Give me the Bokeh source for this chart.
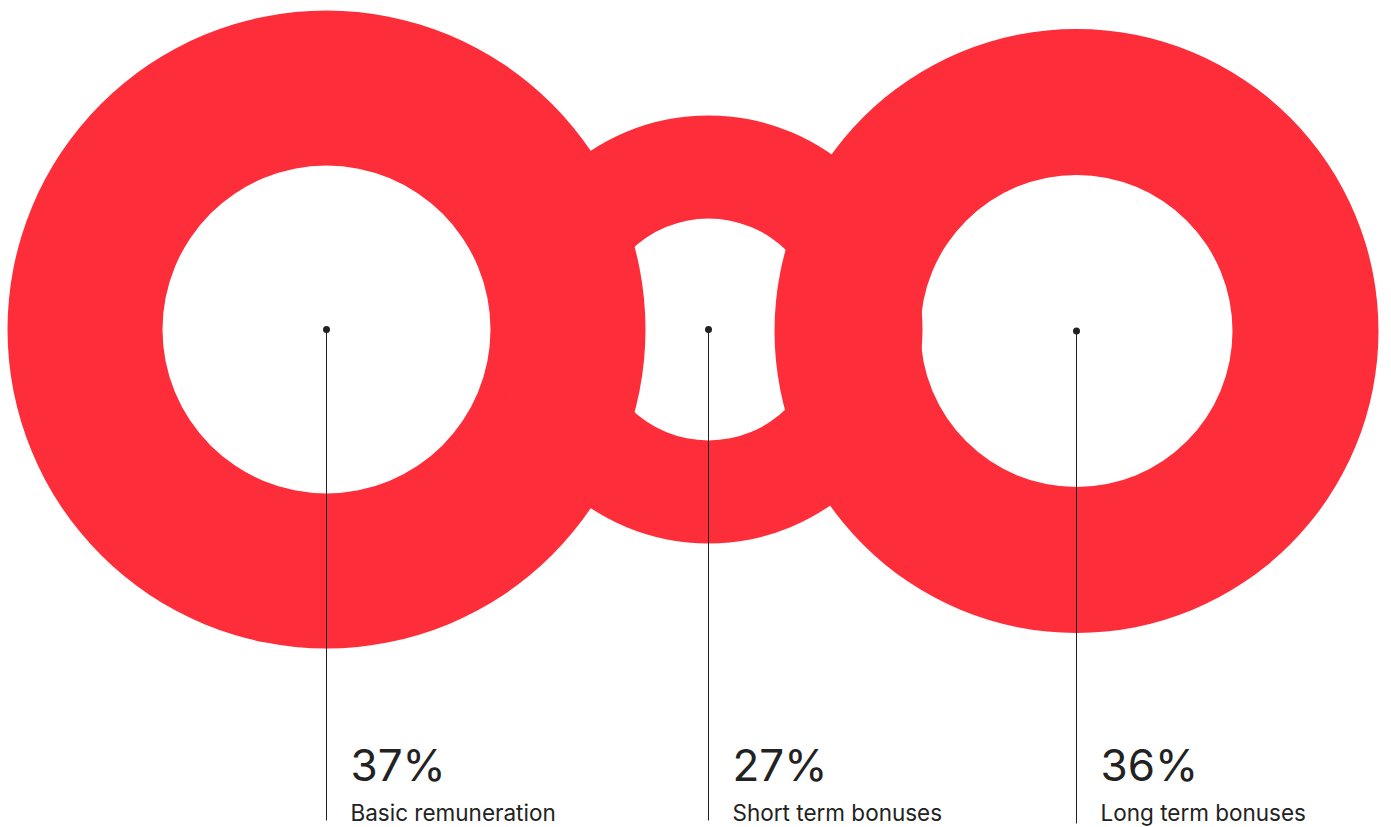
from bokeh.plotting import figure
from bokeh.models import Range1d, ColumnDataSource
from bokeh.core.properties import value
from bokeh.embed import file_html
from bokeh.resources import INLINE

# ---- data ----
categories = ["Basic remuneration", "Short term bonuses", "Long term bonuses"]
shares = [37, 27, 36]

# ---- layout (pixel-like data units) ----
W, H = 1391, 827
ring_x = [326, 708, 1076]
ring_y = [329, 329, 330.5]
outer_r = [319, 214, 302]
inner_r = [164, 111, 156]
line_end = [820, 820, 823]
text_dx = 24
RED = "#fe2d3a"
INK = "#222222"
FONT = "Inter"

p = figure(width=W, height=H, x_range=Range1d(0, W), y_range=Range1d(H, 0),
           output_backend="svg", toolbar_location=None, min_border=0)
p.axis.visible = False
p.grid.visible = False
p.outline_line_color = None
p.background_fill_color = "white"
p.border_fill_color = "white"

rings = ColumnDataSource(dict(x=ring_x, y=ring_y, outer=outer_r, inner=inner_r))
p.annulus(x="x", y="y", inner_radius="inner", outer_radius="outer", source=rings,
          fill_color=RED, line_color=None)

src = ColumnDataSource(dict(
    x=ring_x, y=ring_y, yend=line_end,
    tx=[x + text_dx for x in ring_x],
    pct=[f"{v}%" for v in shares],
    cat=categories,
))
p.segment(x0="x", y0="y", x1="x", y1="yend", source=src, line_color=INK, line_width=1)
p.scatter(x="x", y="y", source=src, size=7, fill_color=INK, line_color=None)

p.text(x="tx", y=764, text="pct", source=src, text_font=value(FONT),
       text_font_size="44px", text_color=INK, text_baseline="middle",
       text_align="left")
p.text(x="tx", y=812, text="cat", source=src, text_font=value(FONT),
       text_font_size="22.5px", text_color=INK, text_baseline="middle",
       text_align="left")

open("out.html", "w").write(file_html(p, INLINE))
